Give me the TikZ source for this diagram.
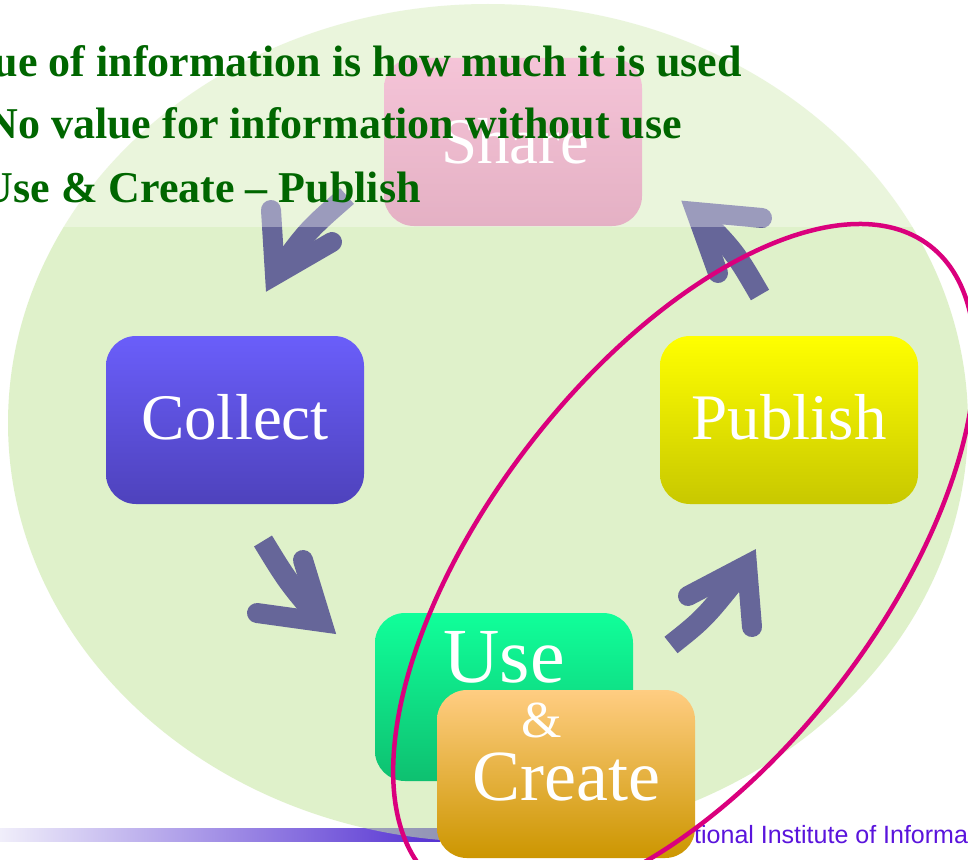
\documentclass[tikz,border=0pt]{standalone}
\usepackage{fontspec}
\setmainfont{Liberation Serif}
\newfontfamily\footfont{Liberation Sans}
\definecolor{ellgreen}{RGB}{198,230,160}
\definecolor{arrowc}{RGB}{102,102,153}
\definecolor{txtgreen}{RGB}{0,102,0}
\definecolor{magentaL}{RGB}{218,0,125}
\definecolor{footc}{RGB}{90,20,220}
\definecolor{barL}{RGB}{240,238,250}
\definecolor{barR}{RGB}{85,50,210}
\definecolor{colT}{RGB}{106,94,250}
\definecolor{colB}{RGB}{78,66,188}
\definecolor{pubT}{RGB}{255,255,0}
\definecolor{pubB}{RGB}{200,200,0}
\definecolor{useT}{RGB}{16,255,154}
\definecolor{useB}{RGB}{14,192,112}
\definecolor{creT}{RGB}{255,205,130}
\definecolor{creB}{RGB}{204,150,0}
\definecolor{shaT}{RGB}{240,165,195}
\definecolor{shaB}{RGB}{215,135,165}
\tikzset{
  box/.style={rounded corners=30pt, minimum width=258pt, minimum height=168pt, inner sep=0pt},
  boxtext/.style={text=white, anchor=base, inner sep=0pt},
  arm/.style={draw=arrowc, line width=20pt, line cap=round, line join=miter},
  shaft/.style={draw=arrowc, line width=21pt, line cap=butt},
  bullettext/.style={text=txtgreen, font=\bfseries\fontsize{44}{50}\selectfont, anchor=base east, inner sep=0pt},
}
\begin{document}
\begin{tikzpicture}[x=1pt,y=-1pt]
\useasboundingbox (0,0) rectangle (968,859);
\clip (0,0) rectangle (968,859);
\fill[white] (0,0) rectangle (968,859);
% footer bar
\shade[left color=barL, right color=barR] (0,828) rectangle (440,841);
% big green ellipse
\fill[ellgreen, opacity=0.55] (488,423) ellipse [x radius=480pt, y radius=419pt];
% footer text
\node[font=\footfont\fontsize{25}{28}\selectfont, text=footc, anchor=base west, inner sep=0pt] (foot) at (694,843) {tional Institute of Informa};
% arrow coordinates
\coordinate (a1t) at (347,196); \coordinate (a1j) at (275,275);
\coordinate (a1p) at (271,210); \coordinate (a1q) at (332,242);
\coordinate (a2t) at (263,541); \coordinate (a2j) at (322,622);
\coordinate (a2p) at (303,560); \coordinate (a2q) at (257,613);
\coordinate (a3t) at (671,645); \coordinate (a3j) at (747,565);
\coordinate (a3p) at (752,627); \coordinate (a3q) at (688,596);
\coordinate (a4t) at (760,295); \coordinate (a4j) at (696,212);
\coordinate (a4p) at (762,218); \coordinate (a4q) at (718,273);
% arrows
\draw[shaft] (a1t) .. controls (308,230) .. (a1j);
\draw[arm] (a1p) -- (a1j) -- (a1q);
\draw[shaft] (a2t) .. controls (288,582) .. (a2j);
\draw[arm] (a2p) -- (a2j) -- (a2q);
\draw[shaft] (a3t) .. controls (705,618) .. (a3j);
\draw[arm] (a3p) -- (a3j) -- (a3q);
\draw[shaft] (a4t) .. controls (735,252) .. (a4j);
\draw[arm] (a4p) -- (a4j) -- (a4q);
% boxes
\node[box, top color=shaT, bottom color=shaB] (share) at (513,142) {};
\node[boxtext, font=\fontsize{65}{70}\selectfont] (shareT) at (515,163) {Share};
\node[box, top color=colT, bottom color=colB] (collect) at (235,420) {};
\node[boxtext, font=\fontsize{65}{70}\selectfont] (collectT) at (235,439) {Collect};
\node[box, top color=pubT, bottom color=pubB] (publish) at (789,420) {};
\node[boxtext, font=\fontsize{65}{70}\selectfont] (publishT) at (789,439) {Publish};
\node[box, top color=useT, bottom color=useB] (use) at (504,697) {};
\node[boxtext, font=\fontsize{78}{80}\selectfont] (useT) at (504,682) {Use};
\node[box, top color=creT, bottom color=creB] (create) at (566,774) {};
\node[boxtext, font=\fontsize{52}{56}\selectfont] (ampT) at (542,737) {\&};
\node[boxtext, font=\fontsize{72}{76}\selectfont] (createT) at (566,800) {Create};
% translucent band behind the bullet text
\fill[white, opacity=0.35] (0,0) rectangle (968,227);
% bullet text
\node[bullettext] (l1) at (742,77) {ue of information is how much it is used};
\node[bullettext] (l2) at (682,138) {No value for information without use};
\node[bullettext] (l3) at (421,202) {Use \& Create – Publish};
% magenta ellipse
\draw[magentaL, line width=4.5pt, shift={(684,565)}, rotate=52.4] (0,0) ellipse [x radius=403pt, y radius=196pt];
\end{tikzpicture}
\end{document}
